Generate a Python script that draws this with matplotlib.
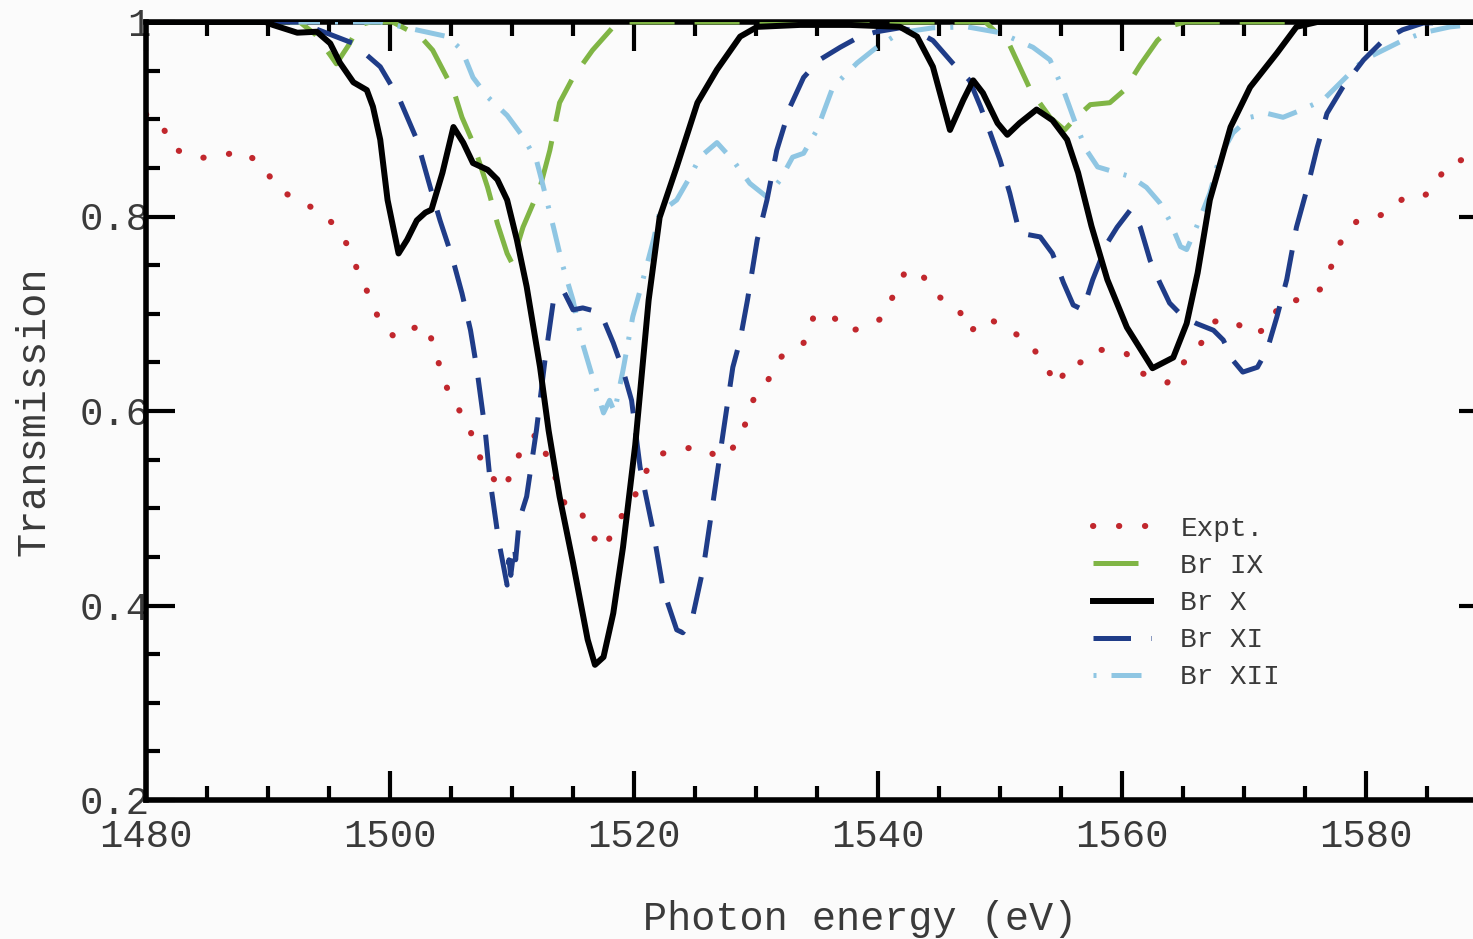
import numpy as np
import matplotlib
matplotlib.use('Agg')
import matplotlib.pyplot as plt
from matplotlib.ticker import MultipleLocator, FixedLocator, FixedFormatter

plt.rcParams['font.family'] = ['Liberation Mono', 'DejaVu Sans Mono']

# ---- data (photon energy in eV, transmission) ----
expt_x = [1480.0, 1481.2, 1482.2, 1484.2, 1486.2, 1487.7, 1489.5, 1490.7, 1492.3, 1494.0,
          1495.3, 1496.5, 1497.3, 1498.2, 1499.0, 1500.4, 1501.8, 1503.0, 1503.7, 1504.3,
          1505.1, 1506.4, 1507.0, 1508.0, 1509.3, 1510.1, 1510.9, 1512.1, 1512.9, 1513.8,
          1514.5, 1515.7, 1516.6, 1517.6, 1518.5, 1519.8, 1520.7, 1521.7, 1523.7, 1525.5,
          1527.1, 1528.1, 1529.1, 1529.8, 1531.0, 1532.1, 1533.9, 1534.7, 1536.0, 1537.5,
          1539.0, 1540.4, 1541.3, 1542.3, 1543.5, 1544.8, 1546.6, 1547.5, 1548.9, 1550.6,
          1552.4, 1553.6, 1554.7, 1555.7, 1557.0, 1558.2, 1560.3, 1561.6, 1563.7, 1565.0,
          1566.4, 1567.6, 1569.0, 1570.7, 1572.0, 1573.0, 1574.3, 1576.4, 1577.2, 1578.0,
          1579.3, 1581.4, 1583.0, 1584.4, 1585.5, 1586.6, 1588.3, 1590.0]
expt_y = [0.905, 0.897, 0.870, 0.860, 0.862, 0.868, 0.854, 0.830, 0.817, 0.807,
          0.793, 0.771, 0.746, 0.721, 0.697, 0.675, 0.685, 0.688, 0.663, 0.635,
          0.611, 0.588, 0.562, 0.537, 0.519, 0.540, 0.565, 0.577, 0.552, 0.524,
          0.498, 0.495, 0.471, 0.458, 0.484, 0.505, 0.531, 0.554, 0.561, 0.563,
          0.551, 0.562, 0.586, 0.612, 0.632, 0.656, 0.670, 0.696, 0.701, 0.682,
          0.686, 0.696, 0.720, 0.745, 0.742, 0.719, 0.705, 0.681, 0.696, 0.685,
          0.670, 0.649, 0.626, 0.650, 0.650, 0.663, 0.660, 0.639, 0.629, 0.649,
          0.668, 0.692, 0.694, 0.678, 0.686, 0.712, 0.714, 0.726, 0.750, 0.776,
          0.796, 0.802, 0.818, 0.818, 0.828, 0.853, 0.860, 0.868]

br9_x = [1480.0, 1492.6, 1493.9, 1495.1, 1495.6, 1496.6, 1497.5, 1498.4, 1500.2, 1502.5,
         1503.5, 1505.2, 1505.9, 1506.8, 1508.0, 1508.8, 1509.6, 1510.0, 1510.9, 1512.3,
         1513.1, 1513.9, 1515.0, 1516.6, 1518.3, 1519.1, 1548.8, 1550.8, 1552.5, 1554.1,
         1555.3, 1556.1, 1557.4, 1559.0, 1560.2, 1561.5, 1562.9, 1564.3, 1565.2, 1590.0]
br9_y = [1.0, 1.0, 0.987, 0.966, 0.957, 0.976, 0.997, 1.0, 1.0, 0.985,
         0.971, 0.930, 0.902, 0.876, 0.830, 0.793, 0.762, 0.752, 0.789, 0.830,
         0.868, 0.917, 0.943, 0.971, 0.995, 1.0, 1.0, 0.976, 0.930, 0.902,
         0.889, 0.900, 0.915, 0.917, 0.930, 0.956, 0.981, 0.997, 1.0, 1.0]

br10_x = [1480.0, 1489.8, 1490.4, 1492.4, 1494.0, 1495.1, 1495.9, 1497.0, 1498.1, 1498.6,
          1499.2, 1499.8, 1500.7, 1501.4, 1502.2, 1502.9, 1503.4, 1504.3, 1505.2, 1506.0,
          1506.8, 1508.0, 1508.8, 1509.6, 1510.4, 1511.2, 1512.3, 1513.0, 1513.9, 1515.0,
          1516.2, 1516.8, 1517.5, 1518.3, 1519.1, 1520.1, 1521.2, 1522.1, 1523.5, 1525.2,
          1526.8, 1528.7, 1530.1, 1533.6, 1537.7, 1541.8, 1543.2, 1544.5, 1545.9, 1547.0,
          1547.8, 1548.6, 1549.8, 1550.6, 1551.6, 1553.0, 1554.3, 1555.5, 1556.4, 1557.5,
          1558.8, 1560.4, 1562.5, 1564.2, 1565.3, 1566.2, 1567.2, 1568.9, 1570.5, 1572.7,
          1574.3, 1576.0, 1590.0]
br10_y = [1.0, 1.0, 0.997, 0.989, 0.990, 0.978, 0.958, 0.938, 0.930, 0.913,
          0.879, 0.817, 0.762, 0.776, 0.796, 0.804, 0.807, 0.845, 0.892, 0.876,
          0.855, 0.848, 0.838, 0.817, 0.776, 0.728, 0.645, 0.580, 0.512, 0.444,
          0.365, 0.339, 0.347, 0.392, 0.460, 0.565, 0.714, 0.799, 0.851, 0.917,
          0.951, 0.985, 0.995, 0.997, 0.997, 0.995, 0.985, 0.954, 0.889, 0.920,
          0.940, 0.927, 0.896, 0.884, 0.896, 0.910, 0.899, 0.879, 0.845, 0.790,
          0.735, 0.686, 0.644, 0.655, 0.690, 0.742, 0.817, 0.892, 0.933, 0.968,
          0.995, 1.0, 1.0]

br11_x = [1480.0, 1492.6, 1493.7, 1497.0, 1499.2, 1500.8, 1502.2, 1503.3, 1504.1, 1505.1,
          1505.9, 1506.6, 1507.1, 1507.8, 1508.2, 1508.9, 1509.6, 1509.75, 1509.9, 1510.2,
          1510.3, 1510.6, 1511.2, 1512.0, 1512.7, 1513.4, 1514.2, 1515.0, 1515.8, 1517.0,
          1517.5, 1518.3, 1519.1, 1519.8, 1520.5, 1521.6, 1522.4, 1523.5, 1524.0, 1524.8,
          1525.7, 1526.5, 1527.3, 1528.1, 1528.7, 1529.3, 1530.1, 1530.9, 1531.7, 1532.8,
          1533.9, 1535.2, 1536.9, 1538.5, 1539.9, 1541.8, 1543.2, 1544.5, 1546.1, 1547.5,
          1548.4, 1549.2, 1550.0, 1550.8, 1551.6, 1553.3, 1554.3, 1555.2, 1556.0, 1556.8,
          1557.6, 1558.8, 1559.6, 1560.7, 1561.5, 1562.3, 1563.1, 1563.9, 1565.0, 1566.1,
          1567.5, 1568.3, 1569.1, 1569.9, 1571.1, 1571.9, 1572.7, 1573.5, 1574.3, 1575.2,
          1576.0, 1576.8, 1578.1, 1579.8, 1581.4, 1583.0, 1584.7, 1590.0]
br11_y = [1.0, 1.0, 0.994, 0.978, 0.954, 0.920, 0.879, 0.830, 0.796, 0.758,
          0.721, 0.683, 0.645, 0.580, 0.529, 0.467, 0.421, 0.447, 0.431, 0.462,
          0.447, 0.488, 0.512, 0.580, 0.652, 0.714, 0.724, 0.704, 0.706, 0.702,
          0.694, 0.670, 0.642, 0.611, 0.542, 0.475, 0.416, 0.375, 0.372, 0.388,
          0.440, 0.508, 0.577, 0.645, 0.673, 0.714, 0.776, 0.817, 0.868, 0.913,
          0.943, 0.961, 0.974, 0.985, 0.990, 0.994, 0.990, 0.981, 0.958, 0.940,
          0.913, 0.886, 0.858, 0.824, 0.783, 0.779, 0.762, 0.732, 0.709, 0.704,
          0.735, 0.773, 0.789, 0.807, 0.789, 0.755, 0.732, 0.711, 0.697, 0.690,
          0.683, 0.673, 0.652, 0.640, 0.645, 0.663, 0.697, 0.735, 0.789, 0.830,
          0.871, 0.906, 0.933, 0.961, 0.981, 0.992, 0.999, 1.0]

br12_x = [1480.0, 1499.2, 1501.4, 1504.7, 1505.9, 1506.8, 1508.0, 1509.6, 1510.9, 1512.0,
          1512.5, 1513.4, 1514.1, 1515.0, 1515.7, 1516.6, 1517.5, 1518.0, 1518.4, 1519.1,
          1519.9, 1520.5, 1521.6, 1522.1, 1523.5, 1524.6, 1525.4, 1526.8, 1528.1, 1529.5,
          1530.9, 1532.0, 1533.0, 1533.9, 1535.0, 1536.3, 1538.3, 1539.9, 1541.8, 1544.5,
          1547.3, 1550.0, 1552.7, 1554.1, 1555.2, 1556.3, 1557.1, 1558.0, 1559.6, 1560.7,
          1562.0, 1563.1, 1563.9, 1564.8, 1565.3, 1566.1, 1567.2, 1568.0, 1569.1, 1570.5,
          1571.9, 1573.2, 1574.8, 1576.5, 1578.1, 1579.8, 1581.4, 1583.0, 1584.7, 1586.9,
          1588.5, 1590.0]
br12_y = [1.0, 1.0, 0.994, 0.985, 0.971, 0.943, 0.923, 0.904, 0.882, 0.858,
          0.834, 0.789, 0.752, 0.714, 0.673, 0.635, 0.598, 0.611, 0.599, 0.642,
          0.697, 0.724, 0.776, 0.804, 0.817, 0.841, 0.861, 0.876, 0.858, 0.834,
          0.820, 0.838, 0.861, 0.865, 0.889, 0.933, 0.958, 0.974, 0.989, 0.994,
          0.995, 0.989, 0.974, 0.961, 0.930, 0.892, 0.868, 0.851, 0.845, 0.841,
          0.830, 0.814, 0.796, 0.769, 0.766, 0.789, 0.824, 0.861, 0.886, 0.902,
          0.906, 0.902, 0.910, 0.920, 0.940, 0.961, 0.971, 0.981, 0.989, 0.995,
          0.997, 1.0]

y_ticks = [0.2, 0.4, 0.6, 0.8, 1.0]
y_tick_labels = ['0.2', '0.4', '0.6', '0.8', '1']
x_ticks = [1480, 1500, 1520, 1540, 1560, 1580]

BG = '#fbfbfb'
TXT = '#3a3a3a'
JOINS = dict(solid_joinstyle='round', dash_joinstyle='round')

fig = plt.figure(figsize=(14.73, 9.39), dpi=100, facecolor=BG)
# axes run slightly past the right edge of the figure, as in the cropped original
ax = fig.add_axes([146 / 1473, 1 - 800 / 939, 1342 / 1473, 778 / 939], facecolor=BG)

ax.plot(expt_x, expt_y, color='#c1272d', lw=4.4, linestyle=(0, (0.05, 4.2)),
        dash_capstyle='round', label='Expt.', zorder=2)
ax.plot(br9_x, br9_y, color='#80b545', lw=3.6, linestyle=(0, (9, 4)), label='Br IX',
        zorder=3, **JOINS)
ax.plot(br10_x, br10_y, color='black', lw=4.3, label='Br X', zorder=6, **JOINS)
ax.plot(br11_x, br11_y, color='#1f3c88', lw=3.6, linestyle=(0, (7.5, 4)), label='Br XI',
        zorder=5, **JOINS)
ax.plot(br12_x, br12_y, color='#8fc6e3', lw=3.6, linestyle=(0, (0.6, 3, 6, 3)),
        label='Br XII', zorder=4, **JOINS)

ax.set_xlim(1480, 1590)
ax.set_ylim(0.2, 1.0)

ax.xaxis.set_major_locator(FixedLocator(x_ticks))
ax.xaxis.set_minor_locator(MultipleLocator(5))
ax.yaxis.set_major_locator(FixedLocator(y_ticks))
ax.yaxis.set_major_formatter(FixedFormatter(y_tick_labels))
ax.yaxis.set_minor_locator(MultipleLocator(0.05))

for s in ax.spines.values():
    s.set_linewidth(4.0)
ax.tick_params(which='both', direction='in', top=True, right=True, width=3.0, color='black')
ax.tick_params(which='major', length=21)
ax.tick_params(which='minor', length=10)
ax.tick_params(axis='x', which='major', labelsize=28, pad=14, labelcolor=TXT)
ax.tick_params(axis='y', which='major', labelsize=28, pad=-3, labelcolor=TXT)

ax.set_xlabel('Photon energy (eV)', fontsize=29, color=TXT)
ax.xaxis.set_label_coords(0.532, -0.129)
ax.set_ylabel('Transmission', fontsize=29, color=TXT, labelpad=20)

leg = ax.legend(loc='upper left', bbox_to_anchor=(1093 / 1473, 1 - 516 / 939),
                bbox_transform=fig.transFigure, frameon=False, fontsize=20,
                handlelength=2.1, handletextpad=1.05, labelspacing=0.4, borderpad=0,
                borderaxespad=0)
for t in leg.get_texts():
    t.set_color(TXT)

fig.savefig('out.png', dpi=100, facecolor=BG)
